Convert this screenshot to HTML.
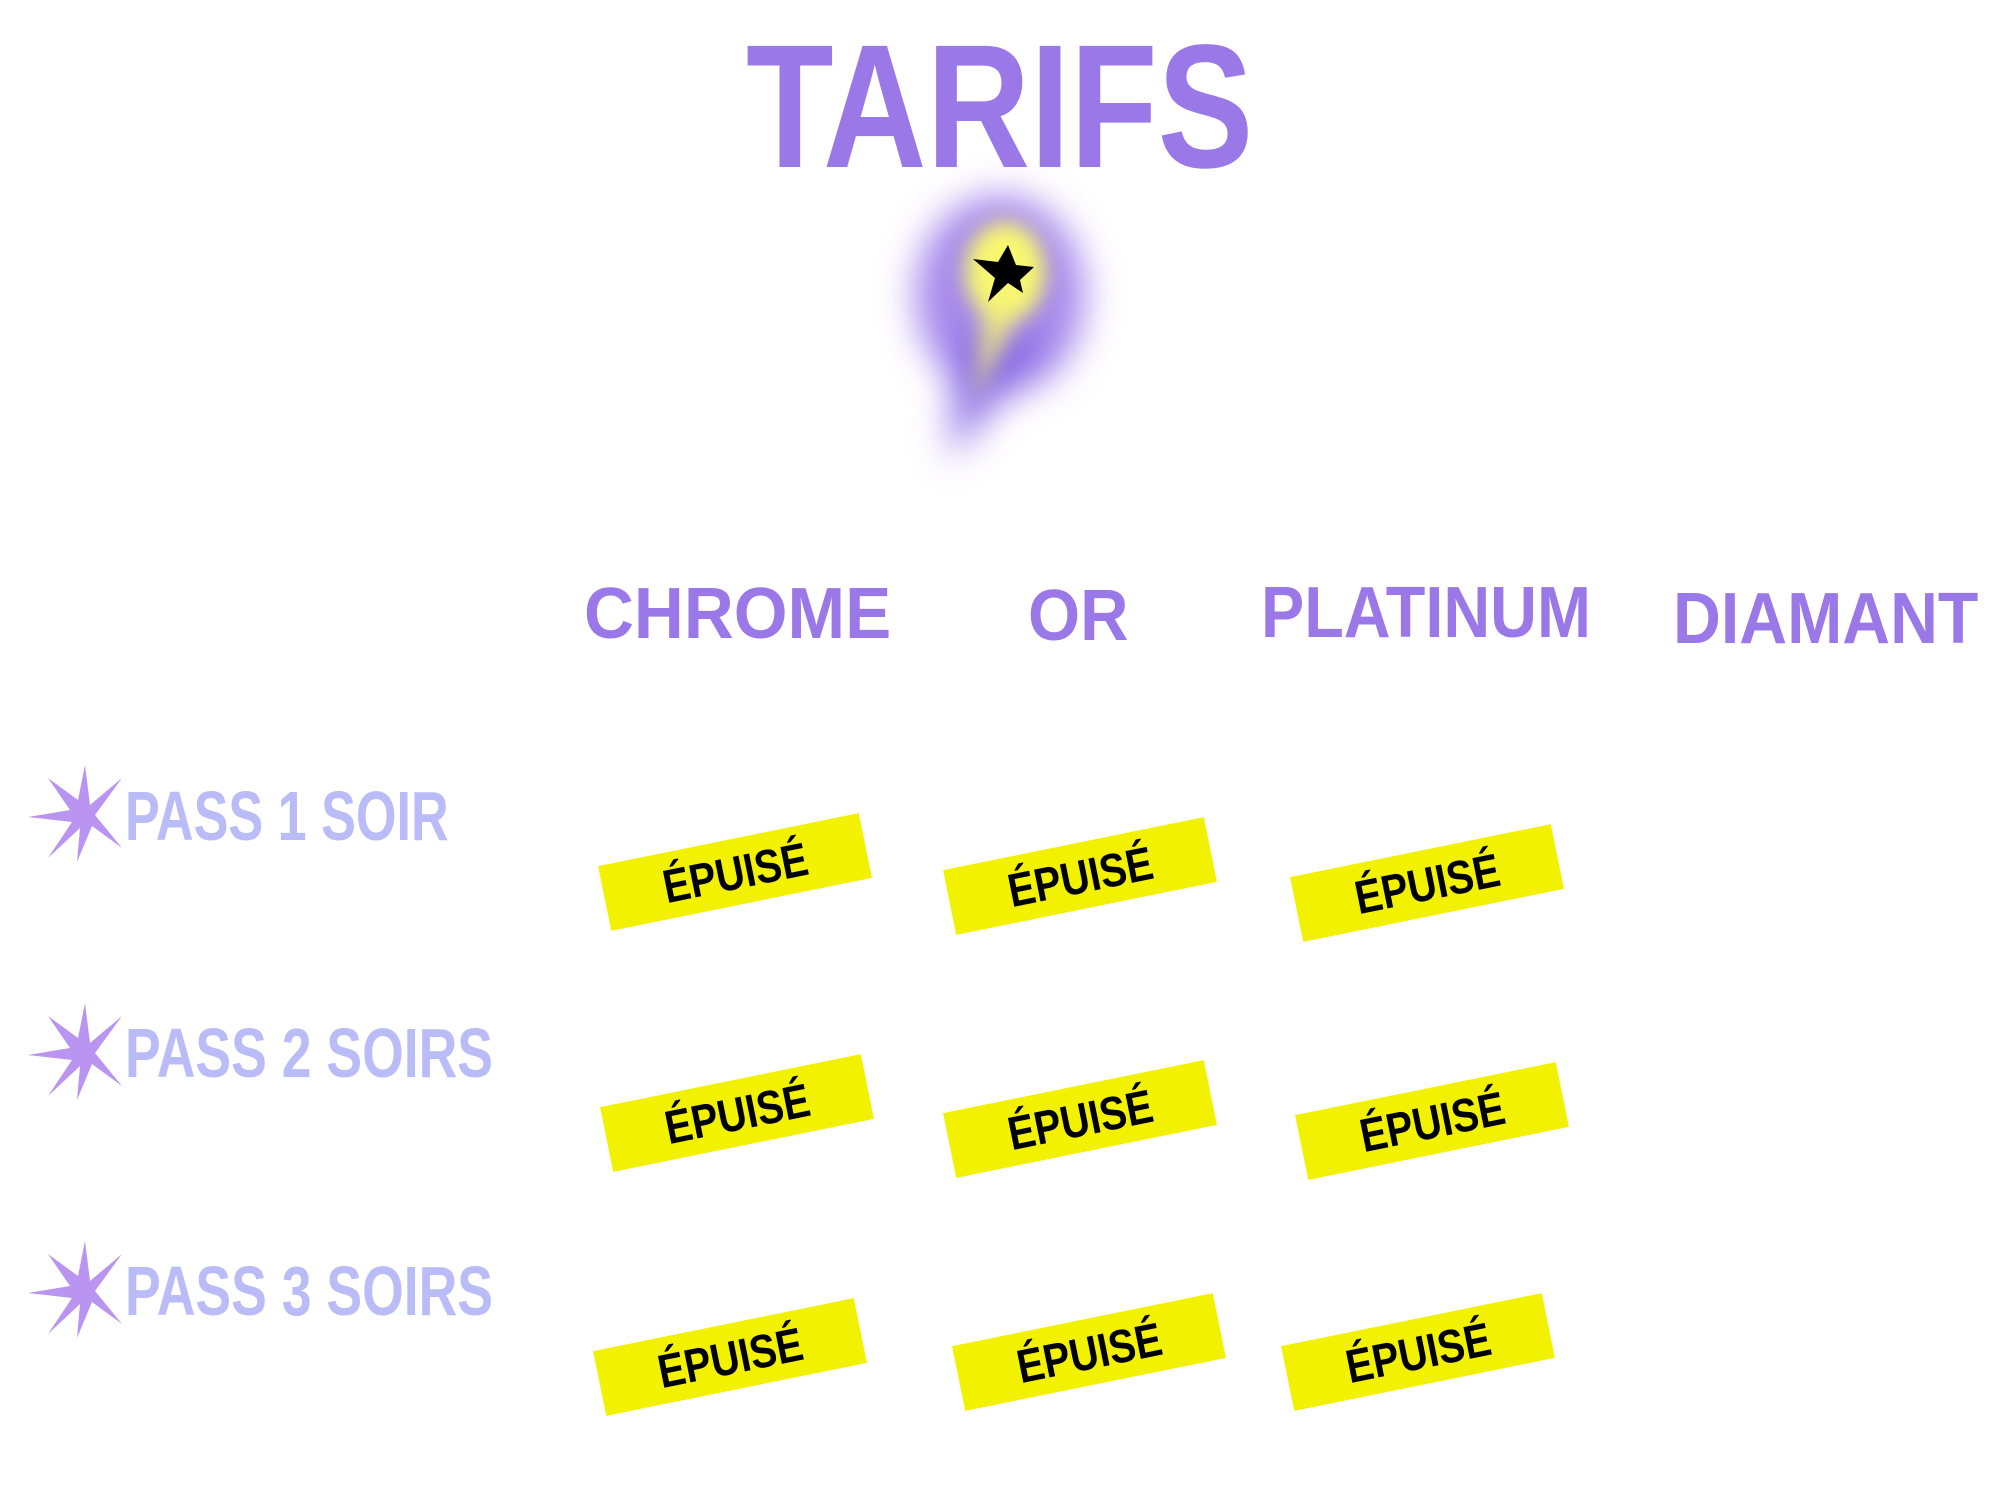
<!DOCTYPE html>
<html><head><meta charset="utf-8"><style>
html,body{margin:0;padding:0;background:#fff;}
body{width:2000px;height:1500px;position:relative;overflow:hidden;font-family:"Liberation Sans",sans-serif;}
.t{position:absolute;font-weight:bold;white-space:nowrap;line-height:1;transform-origin:0 0;}
.h{color:#9b78e8;font-size:72px;}
.r{color:#b9bcf7;font-size:70px;}
.b{position:absolute;width:266px;height:66px;background:#f2f200;transform:translate(-50%,-50%) rotate(-11.5deg);display:flex;align-items:center;justify-content:center;}
.b span{font-weight:bold;font-size:47px;color:#000;transform:scaleX(0.85);display:inline-block;}
.star{position:absolute;}
</style></head><body>
<div class="t" style="left:746px;top:19px;font-size:176px;color:#9b78e8;transform:scaleX(0.815);">TARIFS</div>

<svg style="position:absolute;left:820px;top:150px" width="360" height="370" viewBox="820 150 360 370">
<defs>
<filter id="bl" x="-50%" y="-50%" width="200%" height="200%"><feGaussianBlur stdDeviation="18"/></filter>
<filter id="bl2" x="-50%" y="-50%" width="200%" height="200%"><feGaussianBlur stdDeviation="10"/></filter>
</defs>
<g filter="url(#bl)">
<ellipse cx="1000" cy="295" rx="85" ry="100" fill="#8e6ae6" opacity="0.8"/>
<path d="M955 340 L1050 340 L950 460 Z" fill="#7f62e4" opacity="0.85"/>
</g>
<g filter="url(#bl2)">
<ellipse cx="1005" cy="272" rx="40" ry="50" fill="#f8f870"/>
<path d="M982 300 L1028 300 L975 400 Z" fill="#f2f07a" opacity="0.75"/>
</g>
<polygon points="1008,245 1016,265 1034,267 1020,280 1023,293 1008,283 988,302 995,278 973,259 998,262" fill="#000"/>
</svg>

<div class="t h" style="left:584px;top:578px;transform:scaleX(0.96);">CHROME</div>
<div class="t h" style="left:1028px;top:580px;transform:scaleX(0.93);">OR</div>
<div class="t h" style="left:1261px;top:577px;transform:scaleX(0.9);">PLATINUM</div>
<div class="t h" style="left:1673px;top:583px;transform:scaleX(0.92);">DIAMANT</div>

<svg class="star" style="left:25px;top:762px" width="105" height="102" viewBox="25 762 105 102"><polygon points="85,765 90,805 122,778 95,815 122,848 92,826 77,862 80,828 48,858 72,822 28,817 70,810 48,778 78,800" fill="#b994f0"/></svg>
<svg class="star" style="left:25px;top:1000px" width="105" height="102" viewBox="25 762 105 102"><polygon points="85,765 90,805 122,778 95,815 122,848 92,826 77,862 80,828 48,858 72,822 28,817 70,810 48,778 78,800" fill="#b994f0"/></svg>
<svg class="star" style="left:25px;top:1238px" width="105" height="102" viewBox="25 762 105 102"><polygon points="85,765 90,805 122,778 95,815 122,848 92,826 77,862 80,828 48,858 72,822 28,817 70,810 48,778 78,800" fill="#b994f0"/></svg>

<div class="t r" style="left:125px;top:781px;transform:scaleX(0.745);">PASS 1 SOIR</div>
<div class="t r" style="left:125px;top:1018px;transform:scaleX(0.765);">PASS 2 SOIRS</div>
<div class="t r" style="left:125px;top:1256px;transform:scaleX(0.765);">PASS 3 SOIRS</div>

<div class="b" style="left:735px;top:872px"><span>ÉPUISÉ</span></div>
<div class="b" style="left:1080px;top:876px"><span>ÉPUISÉ</span></div>
<div class="b" style="left:1427px;top:883px"><span>ÉPUISÉ</span></div>
<div class="b" style="left:737px;top:1113px"><span>ÉPUISÉ</span></div>
<div class="b" style="left:1080px;top:1119px"><span>ÉPUISÉ</span></div>
<div class="b" style="left:1432px;top:1121px"><span>ÉPUISÉ</span></div>
<div class="b" style="left:730px;top:1357px"><span>ÉPUISÉ</span></div>
<div class="b" style="left:1089px;top:1352px"><span>ÉPUISÉ</span></div>
<div class="b" style="left:1418px;top:1352px"><span>ÉPUISÉ</span></div>
</body></html>
